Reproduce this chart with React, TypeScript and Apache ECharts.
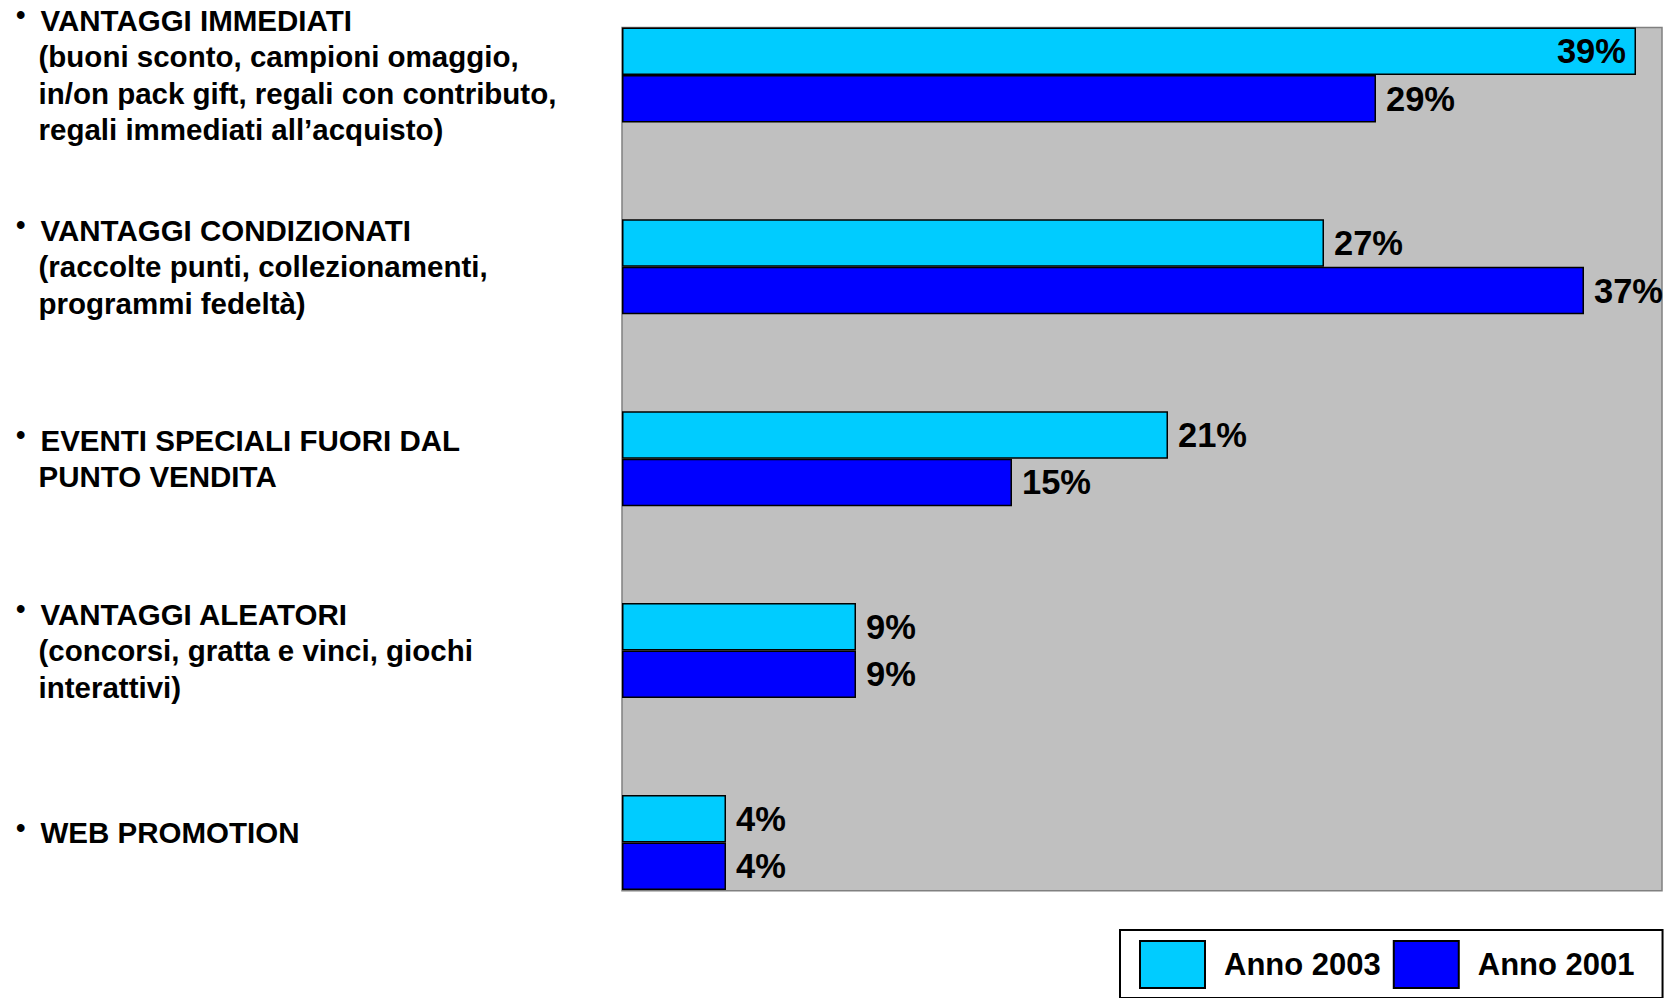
import React, { useEffect, useRef } from "react";
import * as echarts from "echarts";

const categories: string[] = [
  "VANTAGGI IMMEDIATI\n(buoni sconto, campioni omaggio,\nin/on pack gift, regali con contributo,\nregali immediati all’acquisto)",
  "VANTAGGI CONDIZIONATI\n(raccolte punti, collezionamenti,\nprogrammi fedeltà)",
  "EVENTI SPECIALI FUORI DAL\nPUNTO VENDITA",
  "VANTAGGI ALEATORI\n(concorsi, gratta e vinci, giochi\ninterattivi)",
  "WEB PROMOTION",
];
const seriesNames: string[] = ["Anno 2003", "Anno 2001"];
const values2003: number[] = [39, 27, 21, 9, 4];
const values2001: number[] = [29, 37, 15, 9, 4];

const FONT = "'Liberation Sans', Arial, Helvetica, sans-serif";

export default function App() {
  const ref = useRef<HTMLDivElement>(null);
  useEffect(() => {
    if (!ref.current) return;
    const chart = echarts.init(ref.current, undefined, { renderer: "svg" });
    const plotLeft = 622;
    const plotRight = 1662;
    const plotTop = 27.5;
    const plotBottom = 890.7;
    const firstCenter = 75;
    const lastCenter = 842.4;

    const labelStyle = {
      show: true,
      position: "right" as const,
      distance: 10,
      formatter: "{c}%",
      fontFamily: FONT,
      fontWeight: "bold" as const,
      fontSize: 34.5,
      color: "#000",
    };

    chart.setOption({
      animation: false,
      backgroundColor: "#fff",
      graphic: [
        {
          type: "rect",
          z: -10,
          shape: { x: plotLeft, y: plotTop, width: plotRight - plotLeft, height: plotBottom - plotTop },
          style: { fill: "#C0C0C0", stroke: "#808080", lineWidth: 1.5 },
        },
      ],
      legend: {
        left: 1120,
        top: 930,
        orient: "horizontal",
        itemWidth: 65,
        itemHeight: 47,
        itemGap: 12,
        padding: [10, 28, 9, 19],
        borderColor: "#000",
        borderWidth: 2,
        backgroundColor: "#fff",
        icon: "rect",
        data: seriesNames,
        textStyle: {
          fontFamily: FONT,
          fontWeight: "bold",
          fontSize: 31,
          color: "#000",
          padding: [0, 0, 0, 14],
        },
      },
      grid: {
        left: plotLeft,
        right: 1672 - plotRight,
        top: firstCenter,
        height: lastCenter - firstCenter,
        containLabel: false,
      },
      xAxis: {
        type: "value",
        min: 0,
        max: 40,
        show: false,
        splitLine: { show: false },
      },
      yAxis: {
        type: "category",
        inverse: true,
        boundaryGap: false,
        data: categories,
        axisLine: { show: false },
        axisTick: { show: false },
        splitLine: { show: false },
        axisLabel: {
          margin: plotLeft - 16,
          align: "left",
          formatter: (v: string, idx: number) => {
            const body = v
              .split("\n")
              .map((line, i) => (i === 0 ? `{b|•}{t|${line}}` : `{s| }{t|${line}}`))
              .join("\n");
            return idx === categories.length - 1 ? body + "\n{e| }" : body;
          },
          rich: {
            b: {
              width: 24.5,
              fontFamily: FONT,
              fontWeight: "bold",
              fontSize: 27,
              lineHeight: 22,
              padding: [0, 0, 10, 0],
              color: "#000",
            },
            s: { width: 22.5, fontFamily: FONT, fontSize: 29.5, lineHeight: 36.5 },
            e: { fontFamily: FONT, fontSize: 10, lineHeight: 19 },
            t: {
              fontFamily: FONT,
              fontWeight: "bold",
              fontSize: 29.5,
              lineHeight: 36.5,
              color: "#000",
            },
          },
        },
      },
      series: [
        {
          name: seriesNames[0],
          type: "bar",
          barWidth: 47.5,
          barGap: "0%",
          itemStyle: { color: "#00CCFF", borderColor: "#000", borderWidth: 1.5 },
          label: labelStyle,
          data: values2003.map((v, i) =>
            i === 0 ? { value: v, label: { position: "insideRight" } } : v
          ),
        },
        {
          name: seriesNames[1],
          type: "bar",
          barWidth: 47.5,
          barGap: "0%",
          itemStyle: { color: "#0000FF", borderColor: "#000", borderWidth: 1.5 },
          label: labelStyle,
          data: values2001,
        },
      ],
    });
    return () => chart.dispose();
  }, []);
  return (
    <div
      ref={ref}
      style={{ position: "fixed", left: 0, top: 0, width: 1672, height: 998 }}
    />
  );
}
